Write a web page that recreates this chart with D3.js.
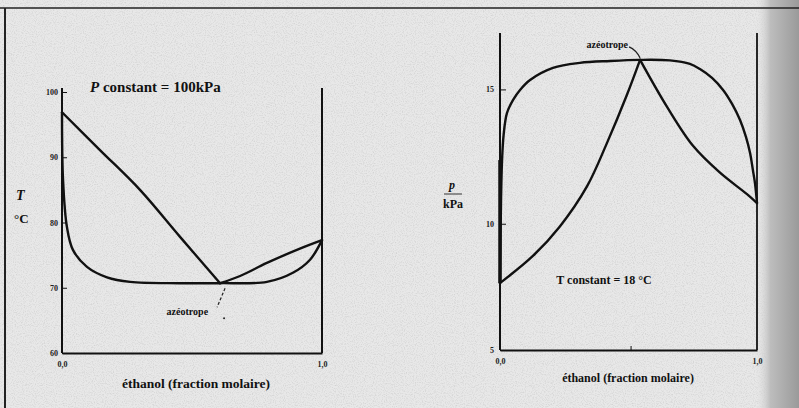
<!DOCTYPE html>
<html>
<head>
<meta charset="utf-8">
<script src="https://cdnjs.cloudflare.com/ajax/libs/d3/7.8.5/d3.min.js"></script>
<style>
  body { margin: 0; background: #e6e6e6; }
  svg { display: block; }
  .axis path, .axis line { stroke: #111; }
  .axis text { font-family: "Liberation Serif", serif; font-weight: bold; fill: #222; }
  .lbl { font-family: "Liberation Serif", serif; font-weight: bold; fill: #111; }
  .curve { fill: none; stroke: #111; stroke-width: 2.4; stroke-linejoin: round; stroke-linecap: round; }
</style>
</head>
<body>
<svg id="chart"></svg>
<script>
// Globals
var width = 799;
var height = 408;

// left diagram : T (°C) vs x ethanol, P = 100 kPa
var leftTicks = [60, 70, 80, 90, 100];
var leftVapX1 = [0, 0.146, 0.3, 0.454, 0.608];
var leftVapT1 = [96.9, 91.1, 85.0, 77.8, 70.7];
var leftVapX2 = [0.608, 0.685, 0.788, 0.915, 1];
var leftVapT2 = [70.7, 71.8, 73.8, 76.0, 77.3];
var leftLiqX = [0, 0.004, 0.019, 0.042, 0.096, 0.173, 0.262, 0.454, 0.608, 0.788, 0.888, 0.954, 1];
var leftLiqT = [96.9, 86.5, 79.3, 75.8, 73.2, 71.6, 70.9, 70.7, 70.7, 70.9, 72.3, 74.3, 77.3];
var leftAzeo = [0.608, 70.7];

// right diagram : p (kPa) vs x ethanol, T constant
var rightTicks = [5.3, 10, 15];
var rightLiqX = [0, 0.004, 0.008, 0.014, 0.027, 0.051, 0.078, 0.117, 0.206, 0.311, 0.428, 0.545, 0.661, 0.739, 0.778, 0.825, 0.868, 0.903, 0.934, 0.957, 0.973, 0.984, 0.992, 1];
var rightLiqP = [7.79, 10.88, 12.37, 13.3, 14.12, 14.61, 14.98, 15.35, 15.8, 15.99, 16.06, 16.1, 16.08, 15.95, 15.76, 15.43, 14.98, 14.46, 13.86, 13.23, 12.63, 12.0, 11.52, 10.77];
var rightVapX1 = [0, 0.128, 0.233, 0.339, 0.416, 0.494, 0.545];
var rightVapP1 = [7.79, 8.8, 9.9, 11.4, 13.0, 14.8, 16.1];
var rightVapX2 = [0.545, 0.65, 0.751, 0.856, 0.961, 1];
var rightVapP2 = [16.1, 14.35, 12.9, 11.9, 11.1, 10.77];
var rightAzeo = [0.545, 16.1];

var xLabels = ["0,0", "1,0"];

var svg = d3.select("#chart").attr("width", width).attr("height", height);

// paper texture
var defs = svg.append("defs");
var f = defs.append("filter").attr("id", "noise").attr("x", 0).attr("y", 0).attr("width", "100%").attr("height", "100%");
f.append("feTurbulence").attr("type", "fractalNoise").attr("baseFrequency", 0.9).attr("numOctaves", 2).attr("seed", 3);
f.append("feColorMatrix").attr("type", "matrix")
  .attr("values", "0 0 0 0 0.3  0 0 0 0 0.3  0 0 0 0 0.3  0 0 0 -1.6 0.9");
var g = defs.append("linearGradient").attr("id", "shade").attr("x1", 0).attr("x2", 1);
g.append("stop").attr("offset", "0%").attr("stop-color", "#e6e6e6").attr("stop-opacity", 0);
g.append("stop").attr("offset", "35%").attr("stop-color", "#bdbdbd").attr("stop-opacity", 1);
g.append("stop").attr("offset", "100%").attr("stop-color", "#9a9a9a").attr("stop-opacity", 1);

svg.append("rect").attr("width", width).attr("height", height).attr("fill", "#e8e8e8");
svg.append("rect").attr("width", width).attr("height", height).attr("filter", "url(#noise)").attr("opacity", 0.35);
svg.append("rect").attr("x", 755).attr("y", 0).attr("width", 44).attr("height", height).attr("fill", "url(#shade)");

// page frame
svg.append("line").attr("x1", 0).attr("y1", 8).attr("x2", width).attr("y2", 8).attr("stroke", "#222").attr("stroke-width", 1.5);
svg.append("line").attr("x1", 5).attr("y1", 8).attr("x2", 5).attr("y2", height).attr("stroke", "#222").attr("stroke-width", 2);

function zip(a, b) { return a.map(function (d, i) { return [d, b[i]]; }); }

var smooth = d3.curveCatmullRom.alpha(0.5);

// ---------- left ----------
var xL = d3.scaleLinear().domain([0, 1]).range([62, 322]);
var yL = d3.scaleLinear().domain([60, 100]).range([353, 92]);
var lineL = d3.line().x(function (d) { return xL(d[0]); }).y(function (d) { return yL(d[1]); }).curve(smooth);

svg.append("g").attr("class", "axis").attr("transform", "translate(62,0)")
  .call(d3.axisLeft(yL).tickValues(leftTicks).tickSizeInner(-5).tickSizeOuter(0).tickPadding(4))
  .call(function (a) { a.select(".domain").attr("stroke-width", 2).attr("d", "M0,88V353"); })
  .call(function (a) { a.selectAll("text").style("font-size", "8px"); });
svg.append("g").attr("class", "axis").attr("transform", "translate(0,353)")
  .call(d3.axisBottom(xL).tickValues([0, 1]).tickSize(0).tickPadding(8).tickFormat(function (d, i) { return xLabels[i]; }))
  .call(function (a) { a.select(".domain").attr("stroke-width", 2); })
  .call(function (a) { a.selectAll("text").style("font-size", "8px"); });
svg.append("line").attr("x1", xL(1)).attr("x2", xL(1)).attr("y1", 88).attr("y2", 353).attr("stroke", "#111").attr("stroke-width", 2);

svg.append("path").attr("class", "curve").attr("d", lineL(zip(leftVapX1, leftVapT1)));
svg.append("path").attr("class", "curve").attr("d", lineL(zip(leftVapX2, leftVapT2)));
svg.append("path").attr("class", "curve").attr("d", lineL(zip(leftLiqX, leftLiqT)));

var ax = xL(leftAzeo[0]), ay = yL(leftAzeo[1]);
svg.append("line").attr("x1", ax + 5).attr("y1", ay + 5).attr("x2", ax - 3).attr("y2", ay + 24)
  .attr("stroke", "#222").attr("stroke-width", 1.2).attr("stroke-dasharray", "3,2");
svg.append("circle").attr("cx", ax + 4).attr("cy", ay + 35).attr("r", 1).attr("fill", "#222");
svg.append("text").attr("class", "lbl").attr("x", ax - 12).attr("y", ay + 32).attr("text-anchor", "end")
  .style("font-size", "10px").text("azéotrope");

svg.append("text").attr("class", "lbl").attr("x", 90).attr("y", 92).style("font-size", "15px")
  .html('<tspan font-style="italic">P</tspan> constant  =  100kPa');
svg.append("text").attr("class", "lbl").attr("x", 16).attr("y", 200).style("font-size", "14px").attr("font-style", "italic").text("T");
svg.append("text").attr("class", "lbl").attr("x", 14).attr("y", 223).style("font-size", "13px").text("°C");
svg.append("text").attr("class", "lbl").attr("x", 196).attr("y", 388).attr("text-anchor", "middle")
  .style("font-size", "13.5px").text("éthanol (fraction molaire)");

// ---------- right ----------
var xR = d3.scaleLinear().domain([0, 1]).range([500, 757]);
var yR = d3.scaleLinear().domain([5.3, 17.1]).range([350, 33]);
var lineR = d3.line().x(function (d) { return xR(d[0]); }).y(function (d) { return yR(d[1]); }).curve(smooth);

svg.append("g").attr("class", "axis").attr("transform", "translate(500,0)")
  .call(d3.axisLeft(yR).tickValues(rightTicks).tickSizeInner(-6).tickSizeOuter(0).tickPadding(6)
    .tickFormat(function (d) { return Math.round(d); }))
  .call(function (a) { a.select(".domain").attr("stroke-width", 2).attr("d", "M0,33V350"); })
  .call(function (a) { a.selectAll("text").style("font-size", "8px"); });
svg.append("g").attr("class", "axis").attr("transform", "translate(0,350)")
  .call(d3.axisBottom(xR).tickValues([0, 1]).tickSize(0).tickPadding(8).tickFormat(function (d, i) { return xLabels[i]; }))
  .call(function (a) { a.select(".domain").attr("stroke-width", 1.8); })
  .call(function (a) { a.selectAll("text").style("font-size", "8px"); });
svg.append("line").attr("x1", xR(0.51)).attr("x2", xR(0.51)).attr("y1", 350).attr("y2", 346).attr("stroke", "#111");
svg.append("line").attr("x1", xR(1)).attr("x2", xR(1)).attr("y1", 33).attr("y2", 350).attr("stroke", "#111").attr("stroke-width", 1.8);

svg.append("path").attr("class", "curve").attr("d", lineR(zip(rightLiqX, rightLiqP)));
svg.append("path").attr("class", "curve").attr("d", lineR(zip(rightVapX1, rightVapP1)));
svg.append("path").attr("class", "curve").attr("d", lineR(zip(rightVapX2, rightVapP2)));
// thick left edge where the liquid curve meets the axis
svg.append("line").attr("x1", xR(0)).attr("x2", xR(0)).attr("y1", yR(rightLiqP[0])).attr("y2", yR(rightLiqP[2]))
  .attr("stroke", "#111").attr("stroke-width", 3.5);

var rx = xR(rightAzeo[0]), ry = yR(rightAzeo[1]);
svg.append("path").attr("d", "M" + (rx - 11) + "," + (ry - 13) + "Q" + (rx - 4) + "," + (ry - 10) + " " + rx + "," + (ry - 2))
  .attr("fill", "none").attr("stroke", "#222").attr("stroke-width", 1.2);
svg.append("text").attr("class", "lbl").attr("x", rx - 12).attr("y", ry - 12).attr("text-anchor", "end")
  .style("font-size", "10px").text("azéotrope");

svg.append("text").attr("class", "lbl").attr("x", 604).attr("y", 284).attr("text-anchor", "middle")
  .style("font-size", "12px").text("T constant  =  18 °C");
svg.append("text").attr("class", "lbl").attr("x", 452).attr("y", 189).attr("text-anchor", "middle")
  .style("font-size", "12px").attr("font-style", "italic").text("p");
svg.append("line").attr("x1", 444).attr("x2", 462).attr("y1", 194).attr("y2", 194).attr("stroke", "#333").attr("stroke-width", 1);
svg.append("text").attr("class", "lbl").attr("x", 453).attr("y", 208).attr("text-anchor", "middle")
  .style("font-size", "12px").text("kPa");
svg.append("text").attr("class", "lbl").attr("x", 628).attr("y", 382).attr("text-anchor", "middle")
  .style("font-size", "12px").text("éthanol (fraction molaire)");
</script>
</body>
</html>
